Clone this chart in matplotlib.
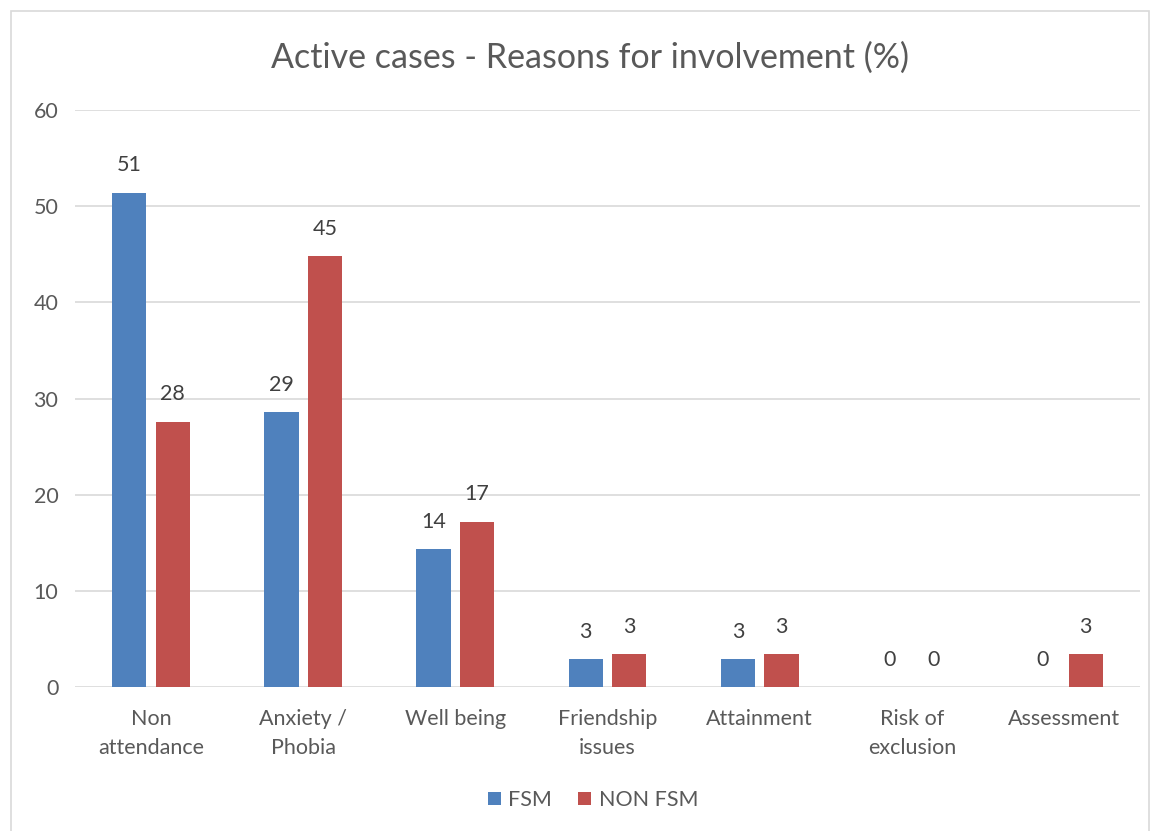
import numpy as np
import matplotlib.pyplot as plt
from matplotlib.patches import Rectangle

categories = ["Non\nattendance", "Anxiety /\nPhobia", "Well being", "Friendship\nissues",
              "Attainment", "Risk of\nexclusion", "Assessment"]
fsm = [51.4, 28.6, 14.3, 2.9, 2.9, 0, 0]
non_fsm = [27.6, 44.8, 17.2, 3.4, 3.4, 0, 3.4]
fsm_labels = ["51", "29", "14", "3", "3", "0", "0"]
non_fsm_labels = ["28", "45", "17", "3", "3", "0", "3"]

plt.rcParams['font.family'] = ['Lato', 'DejaVu Sans']
text_col = "#595959"

fig = plt.figure(figsize=(11.56, 8.31), dpi=100)
ax = fig.add_axes([75 / 1156, 0.1733, 1065 / 1156, 0.6943])

# chart border
fig.patches.append(Rectangle((11 / 1156, -0.01), 1138 / 1156, 1 - 11 / 831 + 0.01,
                             transform=fig.transFigure, fill=False,
                             edgecolor="#d9d9d9", linewidth=1.2))

x = np.arange(len(categories))
w = 0.225
off = 0.143
b1 = ax.bar(x - off, fsm, w, color="#4F81BD", label="FSM", zorder=3)
b2 = ax.bar(x + off, non_fsm, w, color="#C0504D", label="NON FSM", zorder=3)

for bars, labs in ((b1, fsm_labels), (b2, non_fsm_labels)):
    for r, t in zip(bars, labs):
        ax.text(r.get_x() + r.get_width() / 2, r.get_height() + 1.8, t,
                ha="center", va="bottom", fontsize=15.5, color="#404040")

ax.set_ylim(0, 60)
ax.set_xlim(-0.5, 6.5)
ax.set_yticks(range(0, 61, 10))
ax.set_xticks(x)
ax.set_xticklabels(categories, linespacing=1.55)
ax.tick_params(axis="both", length=0, labelsize=15.5, labelcolor=text_col)
ax.tick_params(axis="x", pad=16)
ax.tick_params(axis="y", pad=12)
ax.grid(axis="y", color="#d9d9d9", linewidth=1.2, zorder=0)
for s in ax.spines.values():
    s.set_visible(False)

fig.text(590 / 1156, 1 - 58 / 831, "Active cases - Reasons for involvement (%)",
         fontsize=24.5, color=text_col, ha="center", va="center")

fig.legend(handles=[b1, b2], labels=["FSM", "NON FSM"], loc="center",
           bbox_to_anchor=(593 / 1156, 1 - 800 / 831), ncol=2, frameon=False,
           fontsize=15.5, labelcolor=text_col, handlelength=0.6, handleheight=0.6,
           handletextpad=0.35, columnspacing=1.2)

fig.savefig("out.png", dpi=100)
